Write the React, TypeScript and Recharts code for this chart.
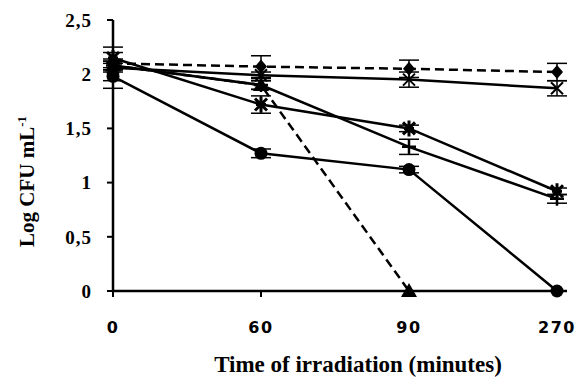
import React from 'react'
import { LineChart, Line, XAxis, YAxis, ErrorBar, Label } from 'recharts'

// irradiation times (minutes)
const times = ['0', '60', '90', '270']
const yTicks = [0, 0.5, 1, 1.5, 2, 2.5]

// log CFU/mL per series
const diamondVals = [2.1, 2.07, 2.05, 2.02]
const diamondErr = [0.04, 0.1, 0.08, 0.08]
const xVals = [2.06, 1.99, 1.95, 1.87]
const xErr = [0.19, 0.03, 0.07, 0.07]
const starVals = [2.15, 1.72, 1.5, 0.92]
const starErr = [0.05, 0.08, 0.03, 0.03]
const plusVals = [2.08, 1.9, 1.33, 0.85]
const plusErr = [0.04, 0.04, 0.07, 0.04]
const triVals = [2.08, 1.9, 0, null]
const triErr = [0.04, 0.04, 0, 0]
const circleVals = [1.98, 1.27, 1.12, 0]
const circleErr = [0.04, 0.04, 0.03, 0]

const data = times.map((t, i) => ({
  time: t,
  diamond: diamondVals[i],
  diamondErr: diamondErr[i],
  x: xVals[i],
  xErr: xErr[i],
  star: starVals[i],
  starErr: starErr[i],
  plus: plusVals[i],
  plusErr: plusErr[i],
  tri: triVals[i],
  triErr: triErr[i],
  circle: circleVals[i],
  circleErr: circleErr[i],
}))

const fmt = (v: number) => String(v).replace('.', ',')

type Shape = 'diamond' | 'x' | 'star' | 'plus' | 'tri' | 'circle'

const marker = (shape: Shape) => (props: any) => {
  const { cx, cy, index } = props
  const key = `${shape}-${index}`
  if (cx == null || cy == null || props.value == null) return <g key={key} />
  switch (shape) {
    case 'diamond':
      return <path key={key} d={`M${cx},${cy - 7}L${cx + 6},${cy}L${cx},${cy + 7}L${cx - 6},${cy}Z`} fill="#000" />
    case 'tri':
      return <path key={key} d={`M${cx},${cy - 8}L${cx + 8},${cy + 6}L${cx - 8},${cy + 6}Z`} fill="#000" />
    case 'circle':
      return <circle key={key} cx={cx} cy={cy} r={6.5} fill="#000" />
    case 'x':
      return (
        <path key={key} d={`M${cx - 6},${cy - 6}L${cx + 6},${cy + 6}M${cx + 6},${cy - 6}L${cx - 6},${cy + 6}`}
          stroke="#000" strokeWidth={2} fill="none" />
      )
    case 'star':
      return (
        <path key={key}
          d={`M${cx - 6},${cy - 6}L${cx + 6},${cy + 6}M${cx + 6},${cy - 6}L${cx - 6},${cy + 6}M${cx},${cy - 8}L${cx},${cy + 8}M${cx - 5},${cy}L${cx + 5},${cy}`}
          stroke="#000" strokeWidth={3} fill="none" />
      )
    case 'plus':
    default:
      return (
        <path key={key} d={`M${cx - 7},${cy}L${cx + 7},${cy}M${cx},${cy - 7}L${cx},${cy + 7}`}
          stroke="#000" strokeWidth={2.5} fill="none" />
      )
  }
}

const YTitle = (props: any) => {
  const { viewBox } = props
  const x = 34
  const y = viewBox.y + viewBox.height / 2 + 26
  return (
    <text x={x} y={y} transform={`rotate(-90 ${x} ${y})`} textAnchor="middle"
      fontFamily="Liberation Serif" fontWeight="bold" fontSize={21} fill="#000">
      Log CFU mL<tspan dy={-8} fontSize={13}>-1</tspan>
    </text>
  )
}

const XTitle = (props: any) => {
  const { viewBox } = props
  return (
    <text x={viewBox.x + viewBox.width / 2 + 18} y={372} textAnchor="middle"
      fontFamily="Liberation Serif" fontWeight="bold" fontSize={23} fill="#000">
      Time of irradiation (minutes)
    </text>
  )
}

const lineProps = {
  stroke: '#000',
  strokeWidth: 2.5,
  isAnimationActive: false,
  activeDot: false as const,
  connectNulls: false,
}

const errProps = { width: 10, strokeWidth: 1.5, stroke: '#000', direction: 'y' as const }

export default function App() {
  return (
    <div style={{ position: 'absolute', left: 0, top: 0, background: '#fff' }}>
      <LineChart width={576} height={379} data={data} margin={{ top: 20, right: 9, bottom: 48, left: 53 }}>
        <XAxis
          dataKey="time"
          scale="point"
          padding={{ left: 0, right: 10 }}
          height={40}
          stroke="#000"
          strokeWidth={2.5}
          tickSize={6}
          tickMargin={25}
          tick={{ fill: '#000', fontSize: 16, fontWeight: 'bold', fontFamily: 'DejaVu Sans', letterSpacing: 1.5 }}
          tickLine={{ stroke: '#000', strokeWidth: 2 }}
        >
          <Label content={<XTitle />} />
        </XAxis>
        <YAxis
          domain={[0, 2.5]}
          ticks={yTicks}
          width={60}
          stroke="#000"
          strokeWidth={2.5}
          tickSize={6}
          tickMargin={15}
          tickFormatter={fmt}
          tick={{ fill: '#000', fontSize: 19, fontWeight: 'bold', fontFamily: 'Liberation Serif', letterSpacing: 1 }}
          tickLine={{ stroke: '#000', strokeWidth: 2 }}
        >
          <Label content={<YTitle />} />
        </YAxis>
        <Line dataKey="diamond" {...lineProps} strokeDasharray="9 5" dot={marker('diamond')}>
          <ErrorBar dataKey="diamondErr" {...errProps} />
        </Line>
        <Line dataKey="x" {...lineProps} dot={marker('x')}>
          <ErrorBar dataKey="xErr" {...errProps} />
        </Line>
        <Line dataKey="star" {...lineProps} dot={marker('star')}>
          <ErrorBar dataKey="starErr" {...errProps} />
        </Line>
        <Line dataKey="plus" {...lineProps} dot={marker('plus')}>
          <ErrorBar dataKey="plusErr" {...errProps} />
        </Line>
        <Line dataKey="tri" {...lineProps} strokeDasharray="9 5" dot={marker('tri')}>
          <ErrorBar dataKey="triErr" {...errProps} />
        </Line>
        <Line dataKey="circle" {...lineProps} dot={marker('circle')}>
          <ErrorBar dataKey="circleErr" {...errProps} />
        </Line>
      </LineChart>
    </div>
  )
}
